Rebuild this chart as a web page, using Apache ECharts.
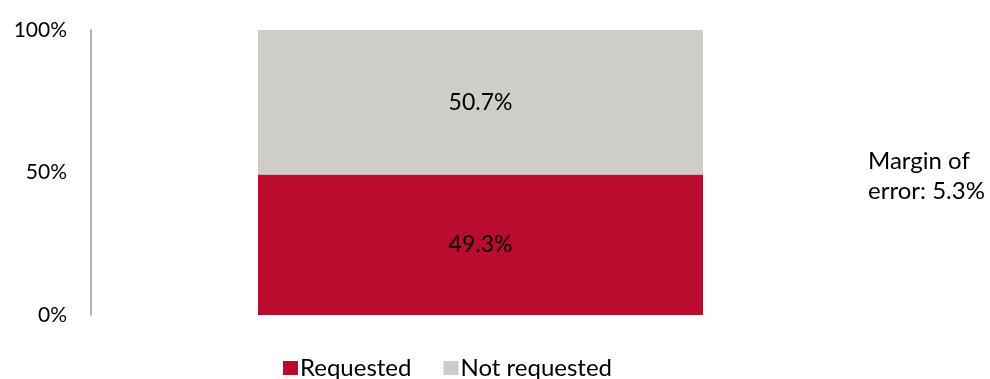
<!DOCTYPE html>
<html>
<head>
<meta charset="utf-8">
<script src="https://cdn.jsdelivr.net/npm/echarts@6/dist/echarts.min.js"></script>
<style>
  html, body { margin: 0; padding: 0; background: #fff; }
  #chart { width: 990px; height: 379px; }
</style>
</head>
<body>
<div id="chart"></div>
<script>
// Share of respondents, single stacked column
const categories = ['All'];
const requested = [49.3];
const notRequested = [50.7];
const seriesNames = ['Requested', 'Not requested'];
const yTicks = [0, 50, 100];
const marginNote = 'Margin of\nerror: 5.3%';

const FONT = 'Lato, "Open Sans", sans-serif';

const chart = echarts.init(document.getElementById('chart'));
chart.setOption({
  animation: false,
  textStyle: { fontFamily: FONT },
  title: {
    text: marginNote,
    left: 863,
    top: 141,
    textStyle: { fontFamily: FONT, fontSize: 24, fontWeight: 'normal', color: '#000', lineHeight: 30 }
  },
  legend: {
    left: 278,
    top: 351,
    itemWidth: 15,
    itemHeight: 14,
    itemGap: 32,
    icon: 'rect',
    textStyle: { fontFamily: FONT, fontSize: 24, color: '#000', padding: [0, 0, 0, -3] },
    data: seriesNames
  },
  grid: { left: 91, top: 30, width: 779, bottom: 64, containLabel: false },
  xAxis: {
    type: 'category',
    data: categories,
    show: false
  },
  yAxis: {
    type: 'value',
    min: yTicks[0],
    max: yTicks[yTicks.length - 1],
    interval: 50,
    axisLine: { show: true, lineStyle: { color: '#999', width: 1.5 } },
    axisTick: { show: false },
    splitLine: { show: false },
    axisLabel: { formatter: '{value}%', fontFamily: FONT, fontSize: 21, color: '#000', margin: 24 }
  },
  series: [
    {
      name: seriesNames[0],
      type: 'bar',
      stack: 'total',
      data: requested,
      barWidth: 445,
      itemStyle: { color: '#B90C2F' },
      label: { show: true, position: 'inside', formatter: '{c}%', fontFamily: FONT, fontSize: 23, color: '#000' }
    },
    {
      name: seriesNames[1],
      type: 'bar',
      stack: 'total',
      data: notRequested,
      barWidth: 445,
      itemStyle: { color: '#CFCDC9' },
      label: { show: true, position: 'inside', formatter: '{c}%', fontFamily: FONT, fontSize: 23, color: '#000' }
    }
  ]
});
</script>
</body>
</html>
